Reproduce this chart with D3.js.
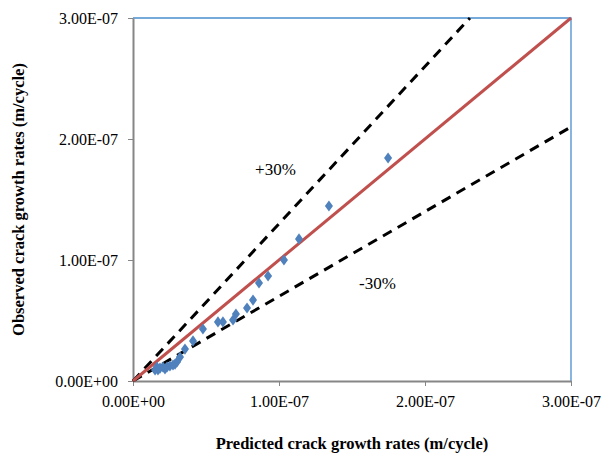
<!DOCTYPE html>
<html>
<head>
<meta charset="utf-8">
<script src="https://cdn.jsdelivr.net/npm/d3@7"></script>
<style>
  html, body { margin: 0; padding: 0; background: #fff; }
  svg text { font-family: "Liberation Serif", "Times New Roman", serif; }
</style>
</head>
<body>
<svg id="chart" width="608" height="457"></svg>
<script>
// Predicted vs observed crack growth rates (m/cycle)
const predicted = [1.747e-7, 1.342e-7, 1.137e-7, 1.034e-7, 0.925e-7, 0.863e-7, 0.822e-7, 0.781e-7,
  0.705e-7, 0.685e-7, 0.616e-7, 0.582e-7, 0.479e-7, 0.411e-7, 0.356e-7, 0.322e-7, 0.301e-7,
  0.288e-7, 0.274e-7, 0.253e-7, 0.233e-7, 0.219e-7, 0.205e-7, 0.185e-7, 0.171e-7, 0.164e-7, 0.151e-7];
const observed = [1.843e-7, 1.446e-7, 1.174e-7, 1.000e-7, 0.868e-7, 0.810e-7, 0.669e-7, 0.603e-7,
  0.554e-7, 0.504e-7, 0.488e-7, 0.488e-7, 0.430e-7, 0.331e-7, 0.264e-7, 0.198e-7, 0.157e-7,
  0.140e-7, 0.132e-7, 0.124e-7, 0.116e-7, 0.099e-7, 0.116e-7, 0.107e-7, 0.091e-7, 0.116e-7, 0.091e-7];

const axisMax = 3e-7;
const tickValues = [0, 1e-7, 2e-7, 3e-7];
const tickLabels = ["0.00E+00", "1.00E-07", "2.00E-07", "3.00E-07"];

// Reference lines: 1:1 and the +/-30% scatter band
const bandFactors = { plus: 1.3, minus: 0.7 };
const bandLabels = [
  { text: "+30%", x: 0.836e-7, y: 1.70e-7 },
  { text: "-30%", x: 1.548e-7, y: 0.76e-7 }
];

const svg = d3.select("#chart");
const plot = { left: 133, right: 571, top: 18, bottom: 381 };

const x = d3.scaleLinear().domain([0, axisMax]).range([plot.left, plot.right]);
const y = d3.scaleLinear().domain([0, axisMax]).range([plot.bottom, plot.top]);

// Plot area border (top/right)
svg.append("path")
  .attr("d", `M${plot.left},${plot.top}H${plot.right}V${plot.bottom}`)
  .attr("fill", "none").attr("stroke", "#4a8fd0").attr("stroke-width", 1.3);

// Axes
const xAxis = svg.append("g")
  .attr("transform", `translate(0,${plot.bottom})`)
  .call(d3.axisBottom(x).tickValues(tickValues).tickFormat((d, i) => tickLabels[i]).tickSizeInner(5).tickSizeOuter(0).tickPadding(10));
const yAxis = svg.append("g")
  .attr("transform", `translate(${plot.left},0)`)
  .call(d3.axisLeft(y).tickValues(tickValues).tickFormat((d, i) => tickLabels[i]).tickSizeInner(5).tickSizeOuter(0).tickPadding(10));

[xAxis, yAxis].forEach(g => {
  g.select(".domain").attr("stroke", "#868686").attr("stroke-width", 2);
  g.selectAll(".tick line").attr("stroke", "#868686").attr("stroke-width", 1);
  g.selectAll(".tick text").attr("font-size", 16).attr("fill", "#000")
    .style("font-family", '"Liberation Serif", "Times New Roman", serif');
});

// Dashed +/-30% lines
const line = d3.line().x(d => x(d[0])).y(d => y(d[1]));
const plusEnd = axisMax / bandFactors.plus;
svg.append("path")
  .attr("d", line([[0, 0], [plusEnd, plusEnd * bandFactors.plus]]))
  .attr("fill", "none").attr("stroke", "#000").attr("stroke-width", 3)
  .attr("stroke-dasharray", "10,7");
svg.append("path")
  .attr("d", line([[0, 0], [axisMax, axisMax * bandFactors.minus]]))
  .attr("fill", "none").attr("stroke", "#000").attr("stroke-width", 3)
  .attr("stroke-dasharray", "10,7");

// 1:1 line
svg.append("path")
  .attr("d", line([[0, 0], [axisMax, axisMax]]))
  .attr("fill", "none").attr("stroke", "#c0504d").attr("stroke-width", 3);

// Observations
const diamond = d3.symbol().type(d3.symbolDiamond).size(36);
svg.append("g").selectAll("path")
  .data(predicted.map((p, i) => [p, observed[i]]))
  .join("path")
  .attr("d", diamond)
  .attr("transform", d => `translate(${x(d[0])},${y(d[1])}) scale(1.25,1)`)
  .attr("fill", "#4f81bd");

// Band labels
svg.append("g").selectAll("text")
  .data(bandLabels)
  .join("text")
  .attr("x", d => x(d.x)).attr("y", d => y(d.y))
  .attr("font-size", 17).attr("fill", "#000")
  .text(d => d.text);

// Axis titles
svg.append("text")
  .attr("x", (plot.left + plot.right) / 2).attr("y", 449)
  .attr("text-anchor", "middle").attr("font-size", 16.5).attr("font-weight", "bold")
  .text("Predicted crack growth rates (m/cycle)");
svg.append("text")
  .attr("transform", `translate(24,${(plot.top + plot.bottom) / 2}) rotate(-90)`)
  .attr("text-anchor", "middle").attr("font-size", 16.5).attr("font-weight", "bold")
  .text("Observed crack growth rates (m/cycle)");
</script>
</body>
</html>
